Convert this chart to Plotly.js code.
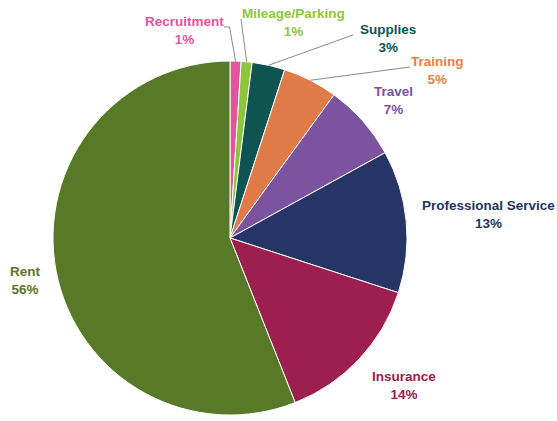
<!DOCTYPE html>
<html>
<head>
<meta charset="utf-8">
<script src="https://cdn.plot.ly/plotly-3.0.1.min.js"></script>
<style>html,body{margin:0;padding:0;background:#fff;}#chart{width:557px;height:421px;}</style>
</head>
<body>
<div id="chart"></div>
<script>
const categories = ["Recruitment","Mileage/Parking","Supplies","Training","Travel","Professional Service","Insurance","Rent"];
const values = [1,1,3,5,7,13,14,56];
const sliceColors = ["#e2559c","#8cc63e","#0f5450","#e07a48","#7b539e","#263566","#9c1f4f","#587a28"];
const labelColors = ["#e2559c","#8dc63f","#0f5450","#ea7f45","#7b52a0","#27335f","#9b1b4b","#57762a"];

const W = 557, H = 421;
const cx = 230, cy = 238, r = 177;
// label centres (pixels)
const labelPos = [[184,30],[293,23],[388,39],[437,70],[393,100],[489,214],[404,385],[25,280]];
// leader line starts (pixels) for small slices; null = no line
const lineStart = [[224,27],[241,19],[353,35],[410,67],null,null,null,null];

const total = values.reduce((a,b)=>a+b,0);
const px = x => x / W, py = y => 1 - y / H;

const annotations = [];
const shapes = [];
let cum = 0;
values.forEach((v,i)=>{
  const mid = (cum + v/2) / total * 2 * Math.PI;
  cum += v;
  const ex = cx + r*Math.sin(mid), ey = cy - r*Math.cos(mid);
  annotations.push({
    xref:'paper', yref:'paper', x:px(labelPos[i][0]), y:py(labelPos[i][1]),
    xanchor:'center', yanchor:'middle', showarrow:false, align:'center',
    text:'<b>'+categories[i]+'</b><br><b>'+Math.round(v/total*100)+'%</b>',
    font:{family:'Liberation Sans, Arial, sans-serif', size:13.5, color:labelColors[i]}
  });
  if (lineStart[i]) {
    const s = lineStart[i];
    let path;
    if (i === 0) {
      path = `M ${px(s[0])} ${py(s[1])} L ${px(ex-6)} ${py(s[1])} L ${px(ex)} ${py(ey)}`;
    } else {
      path = `M ${px(s[0])} ${py(s[1])} L ${px(ex)} ${py(ey)}`;
    }
    shapes.push({type:'path', xref:'paper', yref:'paper', path:path, line:{color:'#8a8a8a', width:1}});
  }
});

const trace = {
  type:'pie', labels:categories, values:values, sort:false, direction:'clockwise', rotation:0,
  marker:{colors:sliceColors, line:{color:'#ffffff', width:1}},
  textinfo:'none', hoverinfo:'label+percent', showlegend:false,
  domain:{x:[px(cx-r), px(cx+r)], y:[py(cy+r), py(cy-r)]}
};

Plotly.newPlot('chart',[trace],{
  width:W, height:H, margin:{l:0,r:0,t:0,b:0},
  paper_bgcolor:'#ffffff', showlegend:false,
  annotations:annotations, shapes:shapes
},{displayModeBar:false, staticPlot:true});
</script>
</body>
</html>
